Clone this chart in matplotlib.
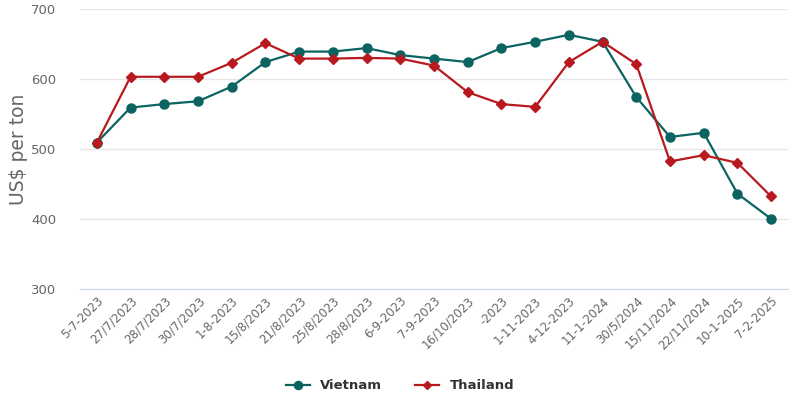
import matplotlib.pyplot as plt
import numpy as np

dates = ["5-7-2023", "27/7/2023", "28/7/2023", "30/7/2023", "1-8-2023", "15/8/2023",
         "21/8/2023", "25/8/2023", "28/8/2023", "6-9-2023", "7-9-2023", "16/10/2023",
         "-2023", "1-11-2023", "4-12-2023", "11-1-2024", "30/5/2024", "15/11/2024",
         "22/11/2024", "10-1-2025", "7-2-2025"]
vietnam = [509, 559, 564, 568, 589, 624, 639, 639, 644, 634, 629, 624,
           644, 653, 663, 653, 574, 517, 523, 436, 400]
thailand = [509, 603, 603, 603, 623, 651, 629, 629, 630, 629, 619, 581,
            564, 560, 624, 653, 621, 482, 491, 480, 432]

c_vn = "#0b6461"
c_th = "#b8191f"

fig = plt.figure(figsize=(8, 4.04), dpi=100)
ax = fig.add_axes([0.1, 0.285, 0.885, 0.693])
x = np.arange(len(dates))

ax.plot(x, vietnam, color=c_vn, lw=1.6, marker="o", ms=6.5, label="Vietnam", zorder=3)
ax.plot(x, thailand, color=c_th, lw=1.6, marker="D", ms=4.8, label="Thailand", zorder=4)

ax.set_xlim(-0.5, len(dates) - 0.5)
ax.set_ylim(300, 700)
ax.set_yticks([300, 400, 500, 600, 700])
ax.set_xticks(x)
ax.set_xticklabels(dates, rotation=45, ha="right", rotation_mode="anchor",
                   fontsize=8.5, color="#666666")
ax.tick_params(axis="y", labelsize=9.5, colors="#666666", length=0, pad=17)
ax.tick_params(axis="x", length=0, pad=4)
ax.grid(axis="y", color="#e6e6e6", lw=1)
ax.set_axisbelow(True)
for s in ["top", "right", "left"]:
    ax.spines[s].set_visible(False)
ax.spines["bottom"].set_color("#ccd6eb")

ax.set_ylabel("US$ per ton", fontsize=13.5, color="#666666", labelpad=2)

leg = fig.legend(loc="lower center", bbox_to_anchor=(0.5, 0.0), ncol=2, frameon=False,
                 prop={"weight": "bold", "size": 9.5}, handlelength=1.8,
                 columnspacing=2.5, markerscale=0.9)
for t in leg.get_texts():
    t.set_color("#333333")

fig.savefig("out.png", dpi=100)
